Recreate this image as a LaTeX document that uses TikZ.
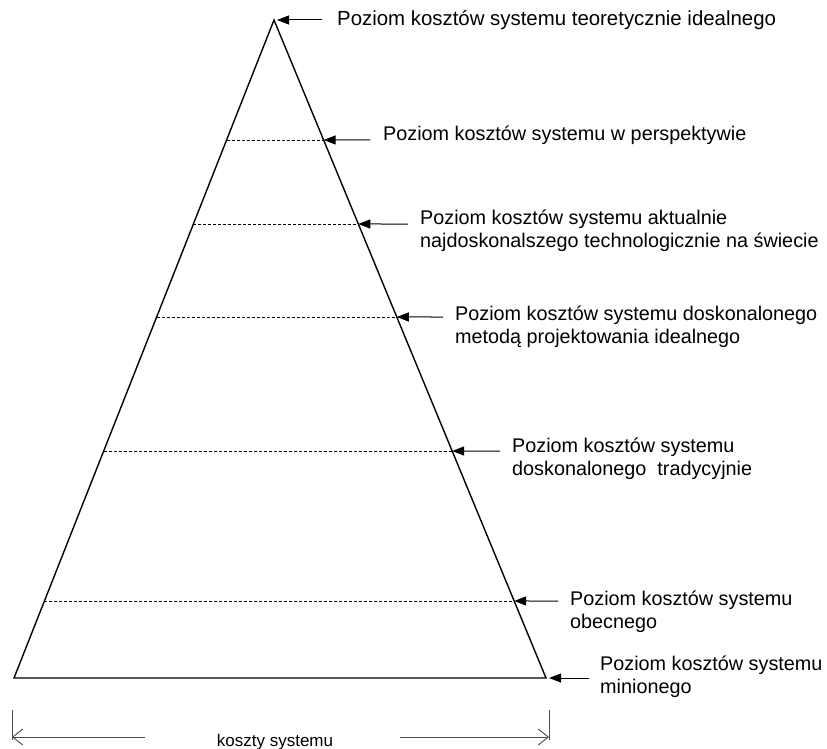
\documentclass[tikz,border=0pt]{standalone}
\usepackage{fontspec}
\setmainfont{Liberation Sans}
\usetikzlibrary{arrows.meta,calc}
\begin{document}
\begin{tikzpicture}[x=1pt,y=-1pt,
  edge/.style={line width=1.4pt,line join=miter},
  level/.style={dashed,dash pattern=on 3pt off 2pt,line width=0.9pt},
  pointer/.style={line width=1pt,-{Triangle[length=12pt,width=9pt]}},
  dim/.style={line width=0.9pt,black!70,-{Straight Barb[length=10pt,width=16pt]}},
  tick/.style={line width=0.9pt,black!70},
  lbl/.style={font=\fontsize{19.8}{23}\selectfont,anchor=base west,align=left,inner sep=0pt}]
\useasboundingbox (0,0) rectangle (827,749);
% pyramid outline
\coordinate (apex) at (274,20);
\coordinate (bl) at (14,678);
\coordinate (br) at (546,678);
\draw[edge] (bl) -- (apex) -- (br) -- cycle;
% cost levels (dashed), from the left edge to the right edge
\foreach \y/\n in {140/a,224/b,317/c,451/d,601/e}{
  \coordinate (L\n) at ($(apex)!{(\y-20)/658}!(bl)$);
  \coordinate (R\n) at ($(apex)!{(\y-20)/658}!(br)$);
  \draw[level] (L\n) -- (R\n);
}
% labels (anchored at the baseline of their last line)
\node[lbl,font=\fontsize{20.4}{23}\selectfont] (t0) at (337,26) {Poziom kosztów systemu teoretycznie idealnego};
\node[lbl] (t1) at (383,140) {Poziom kosztów systemu w perspektywie};
\node[lbl] (t2) at (420,247) {Poziom kosztów systemu aktualnie\\najdoskonalszego technologicznie na świecie};
\node[lbl] (t3) at (455,343) {Poziom kosztów systemu doskonalonego\\metodą projektowania idealnego};
\node[lbl] (t4) at (512,475) {Poziom kosztów systemu\\doskonalonego~ tradycyjnie};
\node[lbl] (t5) at (570,628) {Poziom kosztów systemu\\obecnego};
\node[lbl] (t6) at (600,693) {Poziom kosztów systemu\\minionego};
% pointers from the labels to the pyramid
\coordinate (s0) at (322,20);  \draw[pointer] (s0) -- ($(apex)+(3,0)$);
\coordinate (s1) at (370,140); \draw[pointer] (s1) -- (Ra);
\coordinate (s2) at (408,224); \draw[pointer] (s2) -- (Rb);
\coordinate (s3) at (443,317); \draw[pointer] (s3) -- (Rc);
\coordinate (s4) at (500,451); \draw[pointer] (s4) -- (Rd);
\coordinate (s5) at (558,601); \draw[pointer] (s5) -- (Re);
\coordinate (s6) at (589,678); \draw[pointer] (s6) -- ($(br)+(3,0)$);
% width dimension
\coordinate (d1) at (12,710); \coordinate (d2) at (12,740);
\coordinate (d3) at (549,710); \coordinate (d4) at (549,740);
\draw[tick] (d1) -- (d2);
\draw[tick] (d3) -- (d4);
\node[font=\fontsize{17}{20}\selectfont,anchor=base,inner sep=0pt] (cap) at (275,746) {koszty systemu};
\coordinate (m1) at (145,737); \coordinate (m2) at (400,737);
\draw[dim] (m1) -- (12,737);
\draw[dim] (m2) -- (549,737);
\end{tikzpicture}
\end{document}
